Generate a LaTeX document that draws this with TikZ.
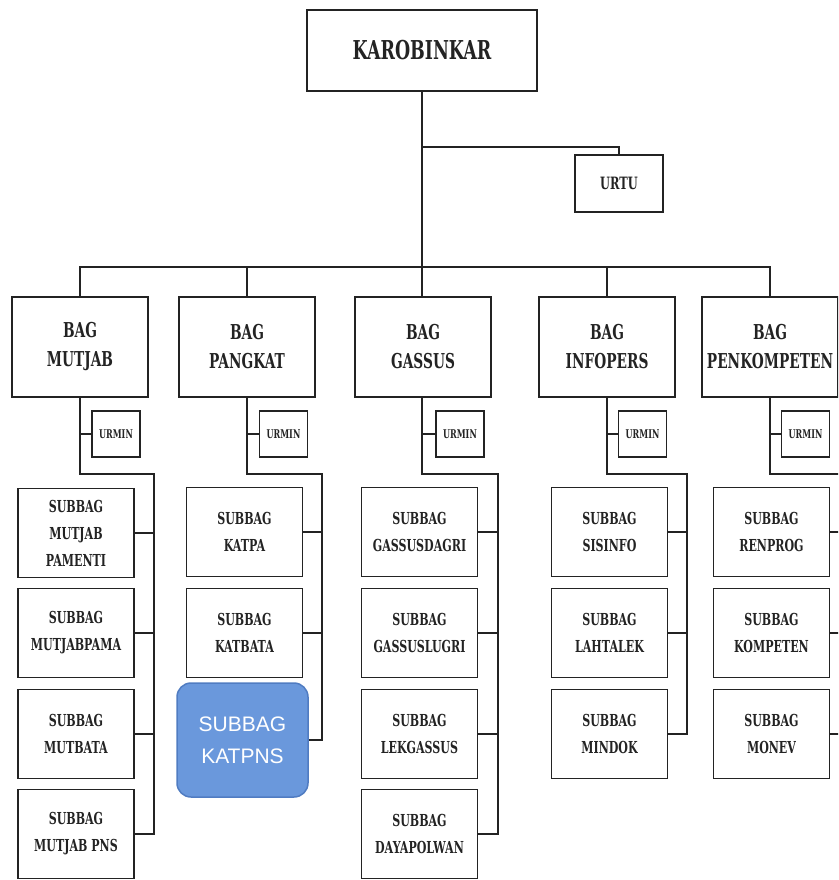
\documentclass[tikz,border=0pt]{standalone}
\usepackage{fontspec}
\newfontfamily\orgfont[FakeStretch=0.67]{DejaVu Serif}
\newfontfamily\sansorg{Liberation Sans}
\usetikzlibrary{positioning}
\definecolor{kpsblue}{RGB}{106,152,220}
\definecolor{kpsedge}{RGB}{80,124,194}
\definecolor{ink}{RGB}{35,35,35}

\begin{document}
\begin{tikzpicture}[
    x=1pt, y=-1pt,
    box/.style={draw=ink, line width=1.8pt, rectangle, align=center, inner sep=0pt, text=ink},
    chief/.style={box, minimum width=230, minimum height=81, font=\orgfont\bfseries\fontsize{26}{30}\selectfont},
    staff/.style={box, minimum width=88, minimum height=57, font=\orgfont\bfseries\fontsize{17}{20}\selectfont},
    bag/.style={box, minimum width=136, minimum height=100, font=\orgfont\bfseries\fontsize{20.5}{29}\selectfont},
    urmin/.style={box, minimum width=48, minimum height=46, font=\orgfont\bfseries\fontsize{12}{15}\selectfont},
    subbag/.style={box, minimum width=116, minimum height=89, font=\orgfont\bfseries\fontsize{16.5}{27}\selectfont},
    newsub/.style={rounded corners=14, fill=kpsblue, draw=kpsedge, line width=1.5pt, align=center,
        text=white, minimum width=131, minimum height=114, font=\sansorg\fontsize{21}{32}\selectfont},
    link/.style={draw=ink, line width=1.7pt}
]
\useasboundingbox (0,0) rectangle (838,880);
\clip (0,0) rectangle (838,880);

% -------------------------
% Top level
% -------------------------
\node[chief] (Karo) at (422,50.5) {KAROBINKAR};
\node[staff] (Urtu) at (619,183.5) {URTU};

\coordinate (UrtuJoint) at (422,147);
\coordinate (Bar) at (422,267);

% -------------------------
% Bagian
% -------------------------
\node[bag] (Mutjab) at (80,347) {BAG\\MUTJAB};
\node[bag] (Pangkat) at (247,347) {BAG\\PANGKAT};
\node[bag] (Gassus) at (423,347) {BAG\\GASSUS};
\node[bag] (Infopers) at (607,347) {BAG\\INFOPERS};
\node[bag] (Penkomp) at (770,347) {BAG\\PENKOMPETEN};

% URMIN of each bagian
\node[urmin] (UrminMutjab) at (116,434) {URMIN};
\node[urmin] (UrminPangkat) at (283.5,434) {URMIN};
\node[urmin] (UrminGassus) at (460,434) {URMIN};
\node[urmin] (UrminInfopers) at (642.5,434) {URMIN};
\node[urmin] (UrminPenkomp) at (805.5,434) {URMIN};

% bus corners
\coordinate (BusMutjab) at (154,474);
\coordinate (BusPangkat) at (322,474);
\coordinate (BusGassus) at (498,474);
\coordinate (BusInfopers) at (687,474);
\coordinate (BusPenkomp) at (849,474);

% -------------------------
% Subbagian
% -------------------------

% 1. Mutjab
\node[subbag] (SubPamenti) at (76,533) {SUBBAG\\MUTJAB\\PAMENTI};
\node[subbag] (SubPama) at (76,633) {SUBBAG\\MUTJABPAMA};
\node[subbag] (SubMutbata) at (76,734) {SUBBAG\\MUTBATA};
\node[subbag] (SubMutpns) at (76,834) {SUBBAG\\MUTJAB PNS};

% 2. Pangkat
\node[subbag] (SubKatpa) at (244.5,532) {SUBBAG\\KATPA};
\node[subbag] (SubKatbata) at (244.5,633) {SUBBAG\\KATBATA};
\node[newsub] (SubKatpns) at (242.5,740) {SUBBAG\\KATPNS};

% 3. Gassus
\node[subbag] (SubDagri) at (419.5,532) {SUBBAG\\GASSUSDAGRI};
\node[subbag] (SubLugri) at (419.5,633) {SUBBAG\\GASSUSLUGRI};
\node[subbag] (SubLek) at (419.5,734) {SUBBAG\\LEKGASSUS};
\node[subbag] (SubDaya) at (419.5,834) {SUBBAG\\DAYAPOLWAN};

% 4. Infopers
\node[subbag] (SubSisinfo) at (609.5,532) {SUBBAG\\SISINFO};
\node[subbag] (SubLahtalek) at (609.5,633) {SUBBAG\\LAHTALEK};
\node[subbag] (SubMindok) at (609.5,734) {SUBBAG\\MINDOK};

% 5. Penkompeten
\node[subbag] (SubRenprog) at (771.5,532) {SUBBAG\\RENPROG};
\node[subbag] (SubKompeten) at (771.5,633) {SUBBAG\\KOMPETEN};
\node[subbag] (SubMonev) at (771.5,734) {SUBBAG\\MONEV};

% -------------------------
% Connections
% -------------------------

% Karo -> Urtu, Bar
\draw[link] (Karo.south) -- (Bar);
\draw[link] (UrtuJoint) -| (Urtu.north);

% Bar -> Bagian
\draw[link] (Mutjab.north) -- (Mutjab.north |- Bar) -- (Penkomp.north |- Bar) -- (Penkomp.north);
\draw[link] (Pangkat.north) -- (Pangkat.north |- Bar);
\draw[link] (Gassus.north -| Bar) -- (Bar);
\draw[link] (Infopers.north) -- (Infopers.north |- Bar);

% Bagian -> URMIN
\draw[link] (UrminMutjab.west) -- (UrminMutjab.west -| Mutjab.south);
\draw[link] (UrminPangkat.west) -- (UrminPangkat.west -| Pangkat.south);
\draw[link] (UrminGassus.west) -- (UrminGassus.west -| Bar);
\draw[link] (UrminInfopers.west) -- (UrminInfopers.west -| Infopers.south);
\draw[link] (UrminPenkomp.west) -- (UrminPenkomp.west -| Penkomp.south);

% Bagian -> Subbagian (Mutjab)
\draw[link] (Mutjab.south) |- (BusMutjab) -- (BusMutjab |- SubMutpns.east) -- (SubMutpns.east);
\draw[link] (SubPamenti.east) -- (SubPamenti.east -| BusMutjab);
\draw[link] (SubPama.east) -- (SubPama.east -| BusMutjab);
\draw[link] (SubMutbata.east) -- (SubMutbata.east -| BusMutjab);

% Pangkat
\draw[link] (Pangkat.south) |- (BusPangkat) -- (BusPangkat |- SubKatpns.east) -- (SubKatpns.east);
\draw[link] (SubKatpa.east) -- (SubKatpa.east -| BusPangkat);
\draw[link] (SubKatbata.east) -- (SubKatbata.east -| BusPangkat);

% Gassus
\draw[link] (Gassus.south -| Bar) |- (BusGassus) -- (BusGassus |- SubDaya.east) -- (SubDaya.east);
\draw[link] (SubDagri.east) -- (SubDagri.east -| BusGassus);
\draw[link] (SubLugri.east) -- (SubLugri.east -| BusGassus);
\draw[link] (SubLek.east) -- (SubLek.east -| BusGassus);

% Infopers
\draw[link] (Infopers.south) |- (BusInfopers) -- (BusInfopers |- SubMindok.east) -- (SubMindok.east);
\draw[link] (SubSisinfo.east) -- (SubSisinfo.east -| BusInfopers);
\draw[link] (SubLahtalek.east) -- (SubLahtalek.east -| BusInfopers);

% Penkompeten
\draw[link] (Penkomp.south) |- (BusPenkomp) -- (BusPenkomp |- SubMonev.east) -- (SubMonev.east);
\draw[link] (SubRenprog.east) -- (SubRenprog.east -| BusPenkomp);
\draw[link] (SubKompeten.east) -- (SubKompeten.east -| BusPenkomp);

\end{tikzpicture}
\end{document}
